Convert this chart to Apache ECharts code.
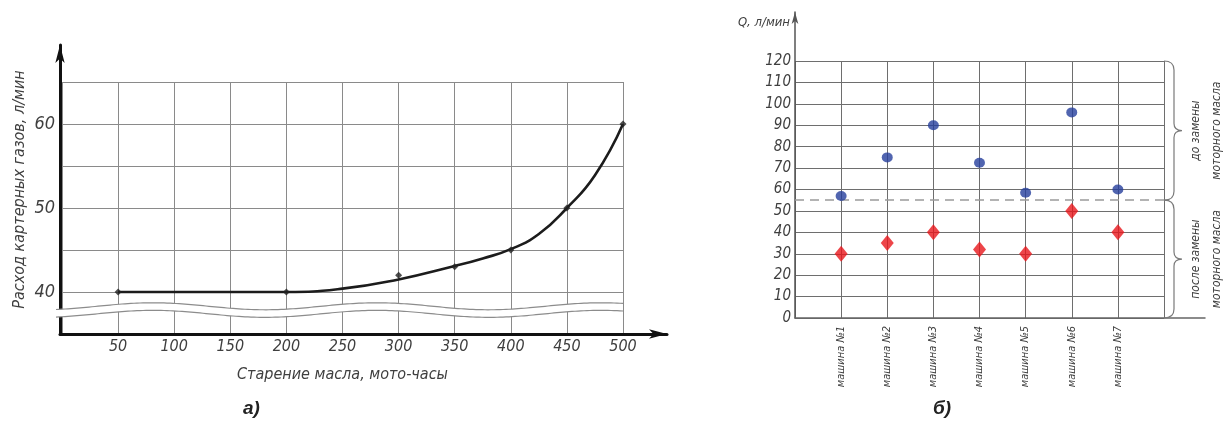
<!DOCTYPE html>
<html><head><meta charset="utf-8">
<script src="https://cdn.jsdelivr.net/npm/echarts@6/dist/echarts.min.js"></script>
<style>html,body{margin:0;padding:0;background:#fff}#c{width:1224px;height:425px}</style>
</head><body><div id="c"></div>
<script>
// ---------- chart а) ----------
const hourTicks = [50, 100, 150, 200, 250, 300, 350, 400, 450, 500];
const flowTickLabels = [40, 50, 60];
const measuredHours = [50, 200, 300, 350, 400, 450, 500];
const measuredFlow = [40, 40, 42, 43, 45, 50, 60];
const trendHours = [50, 100, 150, 200, 250, 300, 350, 375, 400, 425, 450, 475, 500];
const trendFlow = [40, 40, 40, 40, 40.4, 41.5, 43.1, 44.0, 45.1, 46.9, 50, 53.9, 60];

// ---------- chart б) ----------
const machines = ['машина №1', 'машина №2', 'машина №3', 'машина №4', 'машина №5', 'машина №6', 'машина №7'];
const beforeChange = [57, 75, 90, 72.5, 58.5, 96, 60];
const afterChange = [30, 35, 40, 32, 30, 50, 40];
const qTicks = [0, 10, 20, 30, 40, 50, 60, 70, 80, 90, 100, 110, 120];
const boundaryQ = 55;
const sideLabels = ['до замены\nмоторного масла', 'после замены\nмоторного масла'];
const sideBounds = [120, 55, 0];

const FONT = '"Liberation Sans Narrow","DejaVu Sans Condensed","Liberation Sans",sans-serif';
const TXT = '#3f3f3f';

function renderBreak(params, api) {
  const pL = api.coord([0, 38.3]);
  const pR = api.coord([500, 38.3]);
  const pLow = api.coord([0, 37.4]);
  const gap = pLow[1] - pL[1];
  const x0 = pL[0] - 6, x1 = pR[0] + 1;
  const amp = 3.5, period = 224, peak = 153;
  const top = [], bot = [];
  for (let x = x0; x <= x1 + 0.01; x += 3) {
    const y = pL[1] - amp * Math.cos(2 * Math.PI * (x - peak) / period);
    top.push([x, y]); bot.push([x, y + gap]);
  }
  return {
    type: 'group', children: [
      { type: 'polygon', shape: { points: top.concat(bot.slice().reverse()) }, style: { fill: '#fff', stroke: null } },
      { type: 'polyline', shape: { points: top }, style: { stroke: '#8c8c8c', lineWidth: 1.2, fill: null } },
      { type: 'polyline', shape: { points: bot }, style: { stroke: '#8c8c8c', lineWidth: 1.2, fill: null } }
    ]
  };
}

function renderBrace(params, api) {
  const a = api.coord([api.value(0), api.value(1)]);
  const b = api.coord([api.value(0), api.value(2)]);
  const x0 = a[0], y0 = a[1], y1 = b[1];
  const x1 = x0 + 10, xt = x0 + 18, ym = (y0 + y1) / 2, r = 9, r2 = 7;
  const path = `M${x0} ${y0} Q${x1} ${y0} ${x1} ${y0 + r} L${x1} ${ym - r2} Q${x1} ${ym} ${xt} ${ym} ` +
    `Q${x1} ${ym} ${x1} ${ym + r2} L${x1} ${y1 - r} Q${x1} ${y1} ${x0} ${y1}`;
  return {
    type: 'group', children: [
      { type: 'path', shape: { pathData: path }, style: { stroke: '#7a7a7a', lineWidth: 1.2, fill: null } },
      {
        type: 'text', x: x0 + 42, y: ym, rotation: Math.PI / 2,
        style: {
          text: sideLabels[params.dataIndex], fill: TXT, fontFamily: FONT, fontStyle: 'italic',
          fontSize: 12, lineHeight: 21, align: 'center', verticalAlign: 'middle'
        }
      }
    ]
  };
}

const chart = echarts.init(document.getElementById('c'), null, { renderer: 'canvas' });
chart.setOption({
  animation: false,
  backgroundColor: '#fff',
  title: [
    { text: 'а)', left: 238, top: 394, textStyle: { fontFamily: '"Liberation Sans",Arial,sans-serif', fontStyle: 'italic', fontWeight: 'bold', fontSize: 19, color: '#222' } },
    { text: 'б)', left: 928, top: 394, textStyle: { fontFamily: '"Liberation Sans",Arial,sans-serif', fontStyle: 'italic', fontWeight: 'bold', fontSize: 19, color: '#222' } }
  ],
  grid: [
    { left: 62, top: 82, width: 561, height: 252 },       // data a
    { left: 60, top: 45, width: 607, height: 289 },       // axes a
    { left: 795, top: 61, width: 369, height: 257 },      // data б
    { left: 795, top: 12, width: 410, height: 306 }       // axes б
  ],
  xAxis: [
    {
      gridIndex: 0, type: 'value', min: 0, max: 500, interval: 50,
      axisLine: { show: false }, axisTick: { show: false },
      splitLine: { show: true, lineStyle: { color: '#8a8a8a', width: 1 } },
      axisLabel: {
        margin: 5, color: TXT, fontFamily: FONT, fontStyle: 'italic', fontSize: 16,
        formatter: v => hourTicks.includes(v) ? String(v) : ''
      },
      name: 'Старение масла, мото-часы', nameLocation: 'middle', nameGap: 33,
      nameTextStyle: { color: TXT, fontFamily: FONT, fontStyle: 'italic', fontSize: 16 }
    },
    {
      gridIndex: 1, type: 'value', min: 0, max: 1,
      axisLine: { show: true, symbol: ['none', 'arrow'], symbolSize: [7, 18], lineStyle: { color: '#111', width: 3 } },
      axisTick: { show: false }, axisLabel: { show: false }, splitLine: { show: false }
    },
    {
      gridIndex: 2, type: 'value', min: 0, max: 8, interval: 1,
      axisLine: { show: false }, axisTick: { show: false },
      splitLine: { show: true, lineStyle: { color: '#6e6e6e', width: 1 } },
      axisLabel: {
        rotate: 90, margin: 8, color: TXT, fontFamily: FONT, fontStyle: 'italic', fontSize: 11,
        formatter: v => (v >= 1 && v <= machines.length) ? machines[v - 1] : ''
      }
    },
    {
      gridIndex: 3, type: 'value', min: 0, max: 1,
      axisLine: { show: true, lineStyle: { color: '#666', width: 1.5 } },
      axisTick: { show: false }, axisLabel: { show: false }, splitLine: { show: false }
    }
  ],
  yAxis: [
    {
      gridIndex: 0, type: 'value', min: 35, max: 65, interval: 5,
      axisLine: { show: false }, axisTick: { show: false },
      splitLine: { show: true, lineStyle: { color: '#8a8a8a', width: 1 } },
      axisLabel: {
        margin: 7, color: TXT, fontFamily: FONT, fontStyle: 'italic', fontSize: 18,
        formatter: v => flowTickLabels.includes(v) ? String(v) : ''
      }
    },
    {
      gridIndex: 1, type: 'value', min: 0, max: 1,
      axisLine: { show: true, symbol: ['none', 'arrow'], symbolSize: [7, 18], lineStyle: { color: '#111', width: 3 } },
      axisTick: { show: false }, axisLabel: { show: false }, splitLine: { show: false },
      name: 'Расход картерных газов, л/мин', nameLocation: 'middle', nameGap: 32,
      nameTextStyle: { color: TXT, fontFamily: FONT, fontStyle: 'italic', fontSize: 16 }
    },
    {
      gridIndex: 2, type: 'value', min: 0, max: 120, interval: 10,
      axisLine: { show: false }, axisTick: { show: false },
      splitLine: { show: true, lineStyle: { color: '#6e6e6e', width: 1 } },
      axisLabel: {
        margin: 4, color: TXT, fontFamily: FONT, fontStyle: 'italic', fontSize: 15,
        formatter: v => qTicks.includes(v) ? String(v) : ''
      }
    },
    {
      gridIndex: 3, type: 'value', min: 0, max: 1,
      axisLine: { show: true, symbol: ['none', 'arrow'], symbolSize: [5, 12], lineStyle: { color: '#555', width: 1.5 } },
      axisTick: { show: false }, axisLabel: { show: false }, splitLine: { show: false },
      name: 'Q, л/мин', nameLocation: 'end', nameGap: -4,
      nameTextStyle: { color: TXT, fontFamily: FONT, fontStyle: 'italic', fontSize: 13, align: 'right', verticalAlign: 'top', padding: [0, 5, 0, 0] }
    }
  ],
  series: [
    {
      type: 'custom', xAxisIndex: 0, yAxisIndex: 0, z: 5, clip: false, silent: true,
      renderItem: renderBreak, data: [[0, 38]]
    },
    {
      type: 'line', xAxisIndex: 0, yAxisIndex: 0, z: 6, smooth: 0.5,
      showSymbol: false, lineStyle: { color: '#1c1c1c', width: 2.6 },
      data: trendHours.map((h, i) => [h, trendFlow[i]])
    },
    {
      type: 'scatter', xAxisIndex: 0, yAxisIndex: 0, z: 7, symbol: 'diamond', symbolSize: 7,
      itemStyle: { color: '#222' },
      data: measuredHours.map((h, i) => [h, measuredFlow[i]])
    },
    {
      type: 'scatter', xAxisIndex: 2, yAxisIndex: 2, z: 7, symbol: 'circle', symbolSize: [11, 10],
      itemStyle: { color: '#263f9c' },
      data: beforeChange.map((v, i) => [i + 1, v]),
      markLine: {
        silent: true, symbol: ['none', 'none'], label: { show: false },
        lineStyle: { color: '#9a9a9a', type: [9, 6], width: 1.6 },
        data: [{ yAxis: boundaryQ }]
      }
    },
    {
      type: 'scatter', xAxisIndex: 2, yAxisIndex: 2, z: 7, symbol: 'diamond', symbolSize: [13, 16],
      itemStyle: { color: '#e8161c' },
      data: afterChange.map((v, i) => [i + 1, v])
    },
    {
      type: 'custom', xAxisIndex: 2, yAxisIndex: 2, z: 5, clip: false, silent: true,
      renderItem: renderBrace,
      data: sideLabels.map((t, i) => [8, sideBounds[i], sideBounds[i + 1]])
    }
  ]
});
</script>
</body></html>
